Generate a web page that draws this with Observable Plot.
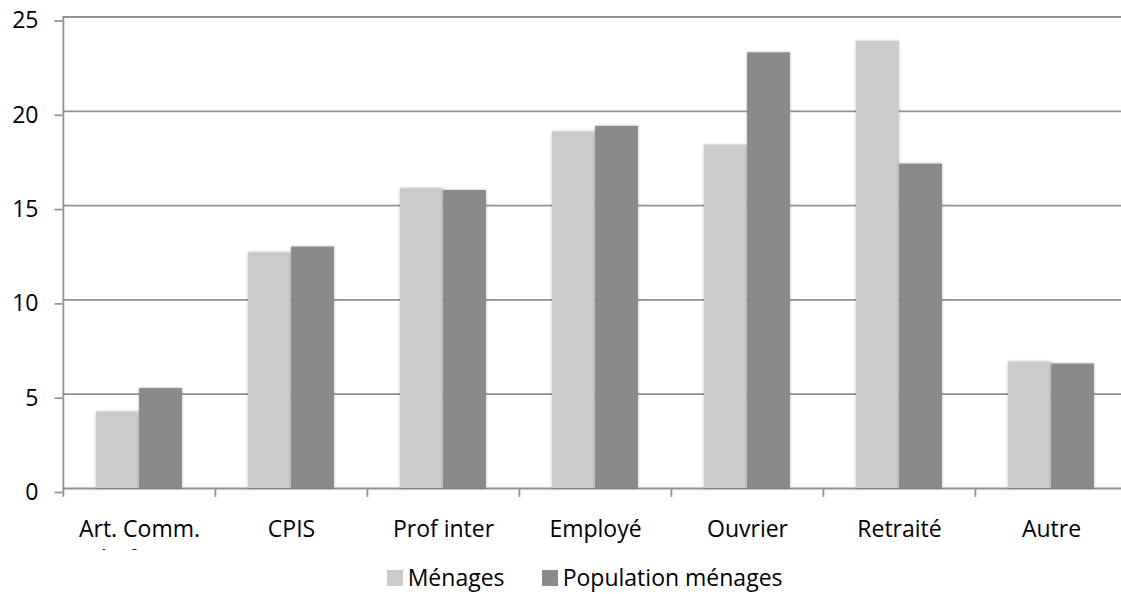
<!DOCTYPE html>
<html>
<head>
<meta charset="utf-8">
<script src="https://cdn.jsdelivr.net/npm/d3@7"></script>
<script src="https://cdn.jsdelivr.net/npm/@observablehq/plot@0.6"></script>
<style>
  html, body { margin: 0; padding: 0; background: #fff; }
  body { width: 1121px; height: 594px; overflow: hidden; font-family: "Open Sans", sans-serif; }
  #chart svg g[aria-label="bar"] rect { filter: drop-shadow(0px 0px 1.5px rgba(0,0,0,0.25)); }
  .legend { position: relative; height: 44px; box-sizing: border-box;
            font-family: "Open Sans", sans-serif; font-size: 23px; line-height: 26px; color: #000; white-space: nowrap; }
  .legend .item { position: absolute; top: 14px; }
  .legend .sw { display: inline-block; width: 16px; height: 16px; vertical-align: baseline; margin-right: 5px; }
</style>
</head>
<body>
<div id="chart"></div>
<div class="legend" id="legend"></div>
<script>
const categories = ["Art. Comm.\nChef entr.", "CPIS", "Prof inter", "Employé", "Ouvrier", "Retraité", "Autre"];
const seriesNames = ["Ménages", "Population ménages"];
const menages = [4.05, 12.5, 15.9, 18.9, 18.2, 23.7, 6.7];
const population = [5.3, 12.8, 15.8, 19.2, 23.1, 17.2, 6.6];
const yTicks = [0, 5, 10, 15, 20, 25];
const colors = ["#cbcbcb", "#8a8a8a"];

const W = 1121, H = 550;
const mL = 62.5, mT = 16.5, mB = 62;
const xRange = [mL, 1128];
const bw = (xRange[1] - xRange[0]) / categories.length;
const gap = 33;           // outer space on each side of a pair of bars
const barW = (bw - 2 * gap) / 2;

const rows = [];
categories.forEach((c, i) => {
  rows.push({cat: c, series: seriesNames[0], value: menages[i]});
  rows.push({cat: c, series: seriesNames[1], value: population[i]});
});

const gridColor = "#929292";

const chart = Plot.plot({
  width: W,
  height: H,
  marginLeft: mL,
  marginRight: 0,
  marginTop: mT,
  marginBottom: mB,
  style: {fontFamily: "Open Sans, sans-serif", fontSize: "23px", color: "#000", background: "#fff", overflow: "hidden"},
  x: {domain: categories, range: xRange, padding: 0, label: null},
  y: {domain: [0, 25], ticks: yTicks, label: null},
  color: {domain: seriesNames, range: colors},
  marks: [
    Plot.ruleY(yTicks, {stroke: gridColor, strokeWidth: 1.8}),
    Plot.axisY({ticks: yTicks, tickSize: 8, stroke: gridColor, strokeWidth: 1.8, tickPadding: 16.5,
                fill: "#000", fontSize: 23, dy: 4, label: null}),
    Plot.axisX({tickSize: 0, tickPadding: 27.5, fill: "#000", fontSize: 23, lineHeight: 1.3, label: null}),
    // axis line and category separators
    Plot.ruleX([categories[0]], {x: d => d, y1: -0.47, y2: 25, dx: -bw / 2, stroke: gridColor, strokeWidth: 1.8}),
    Plot.ruleX(categories.slice(1), {x: d => d, y1: -0.47, y2: 0, dx: -bw / 2, stroke: gridColor, strokeWidth: 1.8}),
    Plot.barY(rows.filter(d => d.series === seriesNames[0]), {
      x: "cat", y: "value", fill: "series",
      insetLeft: gap, insetRight: bw - gap - barW
    }),
    Plot.barY(rows.filter(d => d.series === seriesNames[1]), {
      x: "cat", y: "value", fill: "series",
      insetLeft: gap + barW, insetRight: gap
    })
  ]
});
document.getElementById("chart").appendChild(chart);

const legend = document.getElementById("legend");
const positions = [386.7, 541.7];
seriesNames.forEach((name, i) => {
  const item = document.createElement("span");
  item.className = "item";
  item.style.left = positions[i] + "px";
  const sw = document.createElement("span");
  sw.className = "sw";
  sw.style.background = colors[i];
  item.appendChild(sw);
  item.appendChild(document.createTextNode(name));
  legend.appendChild(item);
});
</script>
</body>
</html>
